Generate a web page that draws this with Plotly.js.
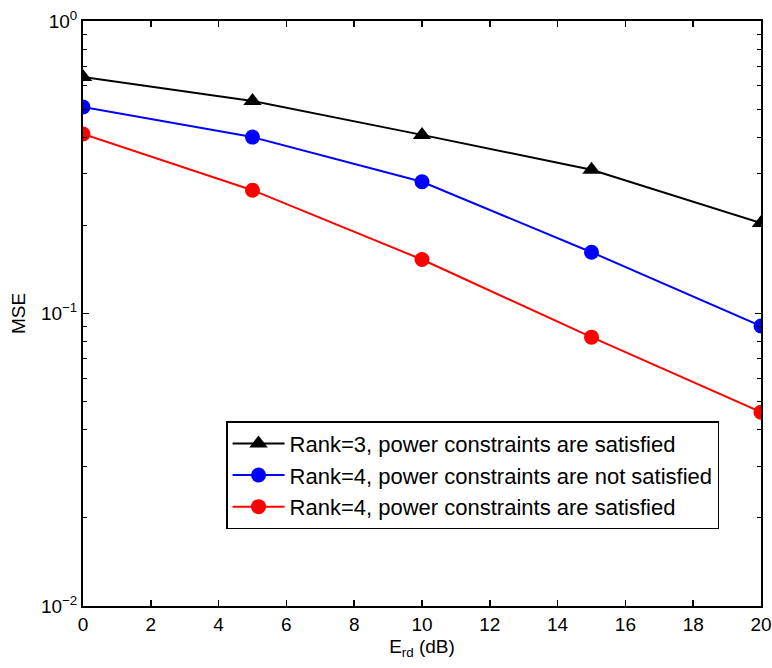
<!DOCTYPE html>
<html>
<head>
<meta charset="utf-8">
<script src="https://cdn.plot.ly/plotly-3.0.1.min.js"></script>
<style>html,body{margin:0;padding:0;background:#fff;}#chart{width:772px;height:668px;}</style>
</head>
<body>
<div id="chart"></div>
<script>
var erd = [0, 5, 10, 15, 20];
var rank3Sat = [0.644, 0.533, 0.408, 0.310, 0.204];
var rank4NotSat = [0.508, 0.401, 0.282, 0.162, 0.0906];
var rank4Sat = [0.411, 0.264, 0.153, 0.083, 0.046];
var names = [
  'Rank=3, power constraints are satisfied',
  'Rank=4, power constraints are not satisfied',
  'Rank=4, power constraints are satisfied'
];
var xTicks = [0, 2, 4, 6, 8, 10, 12, 14, 16, 18, 20];
var yTickVals = [1, 0.1, 0.01];
var yTickText = ['10<sup>0</sup>', '10<sup>\u22121</sup>', '10<sup>\u22122</sup>'];

var font = '"Liberation Sans", Arial, Helvetica, sans-serif';
var traces = [
  {x: erd, y: rank3Sat, name: names[0], mode: 'lines+markers',
   line: {color: '#000000', width: 2}, marker: {symbol: 'triangle-up', size: 16, color: '#000000'}},
  {x: erd, y: rank4NotSat, name: names[1], mode: 'lines+markers',
   line: {color: '#0000ff', width: 2}, marker: {symbol: 'circle', size: 15, color: '#0000ff'}},
  {x: erd, y: rank4Sat, name: names[2], mode: 'lines+markers',
   line: {color: '#ff0000', width: 2}, marker: {symbol: 'circle', size: 15, color: '#ff0000'}}
];
var layout = {
  width: 772, height: 668,
  margin: {l: 83, r: 11, t: 21, b: 62},
  paper_bgcolor: '#ffffff', plot_bgcolor: '#ffffff',
  font: {family: font, size: 19, color: '#000000'},
  showlegend: true,
  legend: {
    x: 0.211, y: 0.316, xanchor: 'left', yanchor: 'top',
    bordercolor: '#000000', borderwidth: 1.5, bgcolor: '#ffffff',
    font: {family: font, size: 22, color: '#000000'},
    tracegroupgap: 0, itemsizing: 'trace', itemwidth: 52
  },
  xaxis: {
    range: [0, 20], tickvals: xTicks, ticks: 'inside', ticklen: 6, tickwidth: 1.5,
    tickcolor: '#000', showline: true, linecolor: '#000', linewidth: 2, mirror: 'ticks',
    showgrid: false, zeroline: false, tickfont: {size: 19}, ticklabeloverflow: 'allow',
    title: {text: 'E<sub>rd</sub> (dB)', font: {family: font, size: 19}, standoff: 6}
  },
  yaxis: {
    type: 'log', range: [-2, 0], tickvals: yTickVals, ticktext: yTickText,
    ticks: 'inside', ticklen: 6, tickwidth: 1.5, tickcolor: '#000',
    showline: true, linecolor: '#000', linewidth: 2, mirror: 'ticks',
    showgrid: false, zeroline: false, tickfont: {size: 19},
    minor: {ticks: 'inside', ticklen: 4, tickwidth: 1, tickcolor: '#000', dtick: 'D1', showgrid: false},
    title: {text: 'MSE', font: {family: font, size: 19}, standoff: 10}
  }
};
Plotly.newPlot('chart', traces, layout, {displayModeBar: false, staticPlot: true});
</script>
</body>
</html>
